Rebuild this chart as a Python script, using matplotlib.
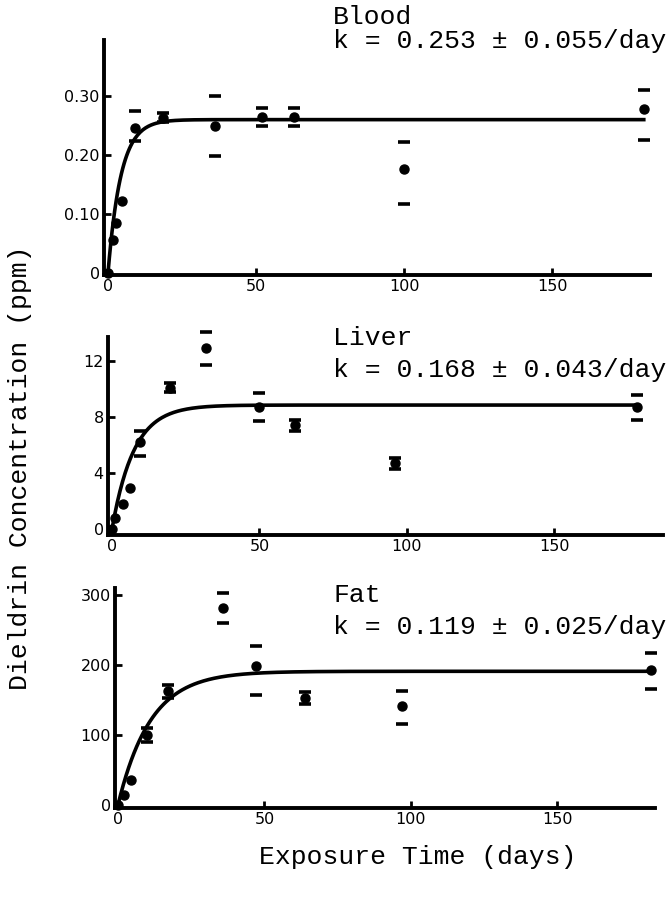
import numpy as np
import matplotlib
matplotlib.use("Agg")
import matplotlib.pyplot as plt

# ---------------- data ----------------
blood_t = [0, 1.7, 2.7, 4.7, 9, 18.6, 36, 52, 63, 100, 181]
blood_c = [0, 0.056, 0.085, 0.122, 0.246, 0.263, 0.249, 0.265, 0.265, 0.176, 0.278]
blood_hi = [np.nan, np.nan, np.nan, np.nan, 0.275, 0.272, 0.300, 0.280, 0.280, 0.222, 0.310]
blood_lo = [np.nan, np.nan, np.nan, np.nan, 0.224, 0.256, 0.198, 0.250, 0.250, 0.117, 0.225]

liver_t = [0, 1, 3.7, 6, 9.5, 19.5, 32, 50, 62, 96, 178]
liver_c = [0, 0.8, 1.8, 2.9, 6.2, 10.1, 12.9, 8.7, 7.4, 4.7, 8.7]
liver_hi = [np.nan, np.nan, np.nan, np.nan, 7.0, 10.4, 14.1, 9.7, 7.8, 5.1, 9.6]
liver_lo = [np.nan, np.nan, np.nan, np.nan, 5.2, 9.8, 11.7, 7.7, 7.0, 4.3, 7.8]

fat_t = [0, 2, 4.5, 10, 17, 36, 47, 64, 97, 182]
fat_c = [0, 14, 36, 100, 163, 281, 199, 153, 141, 193]
fat_hi = [np.nan, np.nan, np.nan, 110, 172, 303, 227, 161, 163, 217]
fat_lo = [np.nan, np.nan, np.nan, 90, 153, 260, 157, 144, 115, 166]

tissues = ["Blood", "Liver", "Fat"]
k_text = ["k = 0.253 \u00b1 0.055/day", "k = 0.168 \u00b1 0.043/day",
          "k = 0.119 \u00b1 0.025/day"]
plateau = [0.26, 8.85, 191]
curve_rate = [0.23, 0.135, 0.09]
curve_end = [181, 178, 182]

blood_yticks = [0, 0.10, 0.20, 0.30]
blood_ylabels = ["0", "0.10", "0.20", "0.30"]
liver_yticks = [0, 4, 8, 12]
liver_ylabels = ["0", "4", "8", "12"]
fat_yticks = [0, 100, 200, 300]
fat_ylabels = ["0", "100", "200", "300"]
xticks = [0, 50, 100, 150]
xlabels = ["0", "50", "100", "150"]

# ---------------- figure ----------------
W, H = 672, 899
fig = plt.figure(figsize=(W / 100, H / 100), dpi=100)
mono = "Liberation Mono"

def px_axes(left, right, bottom, top):
    return fig.add_axes([left / W, (H - bottom) / H, (right - left) / W, (bottom - top) / H])

panels = [
    dict(box=(104, 650, 275, 40), xlim=(-1.35, 183.1), ylim=(-0.0034, 0.395),
         t=blood_t, c=blood_c, hi=blood_hi, lo=blood_lo,
         yt=blood_yticks, yl=blood_ylabels, text_y=(17, 41)),
    dict(box=(108, 663, 535, 337), xlim=(-1.36, 186.8), ylim=(-0.43, 13.71),
         t=liver_t, c=liver_c, hi=liver_hi, lo=liver_lo,
         yt=liver_yticks, yl=liver_ylabels, text_y=(338, 370)),
    dict(box=(115, 655, 808, 588), xlim=(-1.02, 183.3), ylim=(-4.3, 310),
         t=fat_t, c=fat_c, hi=fat_hi, lo=fat_lo,
         yt=fat_yticks, yl=fat_ylabels, text_y=(595, 627)),
]

for i, p in enumerate(panels):
    ax = px_axes(*p["box"])
    ax.set_xlim(*p["xlim"])
    ax.set_ylim(*p["ylim"])
    for s in ("top", "right"):
        ax.spines[s].set_visible(False)
    for s in ("left", "bottom"):
        ax.spines[s].set_linewidth(2.8)
        ax.spines[s].set_color("black")
    ax.set_xticks(xticks)
    ax.set_xticklabels(xlabels)
    ax.set_yticks(p["yt"])
    ax.set_yticklabels(p["yl"])
    ax.tick_params(axis="both", direction="in", length=5, width=2,
                   labelsize=11.5, pad=3)
    ax.patch.set_alpha(0)

    # fitted curve
    tt = np.linspace(0, curve_end[i], 400)
    ax.plot(tt, plateau[i] * (1 - np.exp(-curve_rate[i] * tt)),
            color="black", lw=2.6, zorder=3, clip_on=False)
    # data points
    ax.plot(p["t"], p["c"], "o", color="black", ms=6.5, zorder=4, clip_on=False)
    # error caps
    ax.plot(p["t"], p["hi"], "_", color="black", ms=9, mew=2.6, zorder=4, clip_on=False)
    ax.plot(p["t"], p["lo"], "_", color="black", ms=9, mew=2.6, zorder=4, clip_on=False)

    fig.text(333 / W, 1 - p["text_y"][0] / H, tissues[i], family=mono,
             fontsize=19, ha="left", va="center")
    fig.text(333 / W, 1 - p["text_y"][1] / H, k_text[i], family=mono,
             fontsize=19, ha="left", va="center")

fig.text(20 / W, 1 - 468 / H, "Dieldrin Concentration (ppm)", family=mono,
         fontsize=19, rotation=90, ha="center", va="center")
fig.text(418 / W, 1 - 857 / H, "Exposure Time (days)", family=mono,
         fontsize=19, ha="center", va="center")

fig.savefig("out.png", dpi=100)
